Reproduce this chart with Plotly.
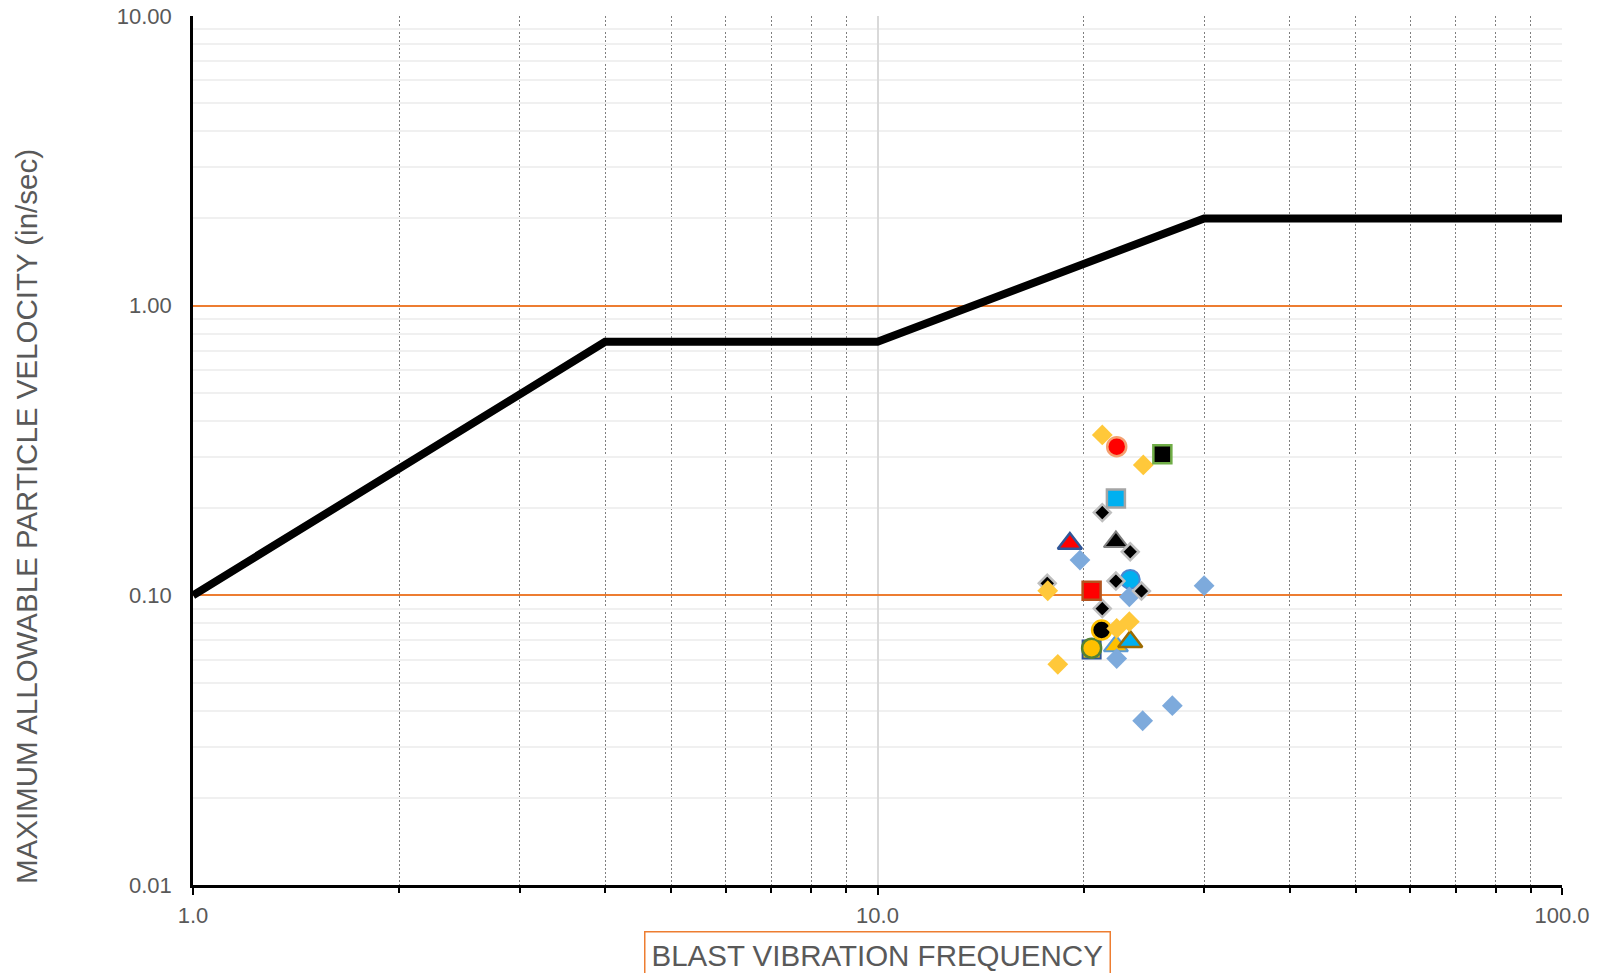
import plotly.graph_objects as go

# ---- data ----
limit_freq = [1, 4, 10, 30, 100]
limit_ppv = [0.1, 0.75, 0.75, 2.0, 2.0]

x_major = [1, 10, 100]
x_major_text = ["1.0", "10.0", "100.0"]
x_minor = [2, 3, 4, 5, 6, 7, 8, 9, 20, 30, 40, 50, 60, 70, 80, 90]
y_major = [0.01, 0.1, 1, 10]
y_major_text = ["0.01", "0.10", "1.00", "10.00"]
y_minor = [0.02, 0.03, 0.04, 0.05, 0.06, 0.07, 0.08, 0.09,
           0.2, 0.3, 0.4, 0.5, 0.6, 0.7, 0.8, 0.9,
           2, 3, 4, 5, 6, 7, 8, 9]

# blast readings (frequency Hz, PPV in/sec), grouped by marker style
sq_hidden_f = [20.55]
sq_hidden_v = [0.065]
circ_yellow_f = [20.55]
circ_yellow_v = [0.0657]
circ_black_f = [21.25]
circ_black_v = [0.0759]
circ_cyan_f = [23.4]
circ_cyan_v = [0.1135]
tri_black_f = [22.3]
tri_black_v = [0.153]
tri_red_f = [19.1]
tri_red_v = [0.151]
tri_yellow_f = [22.3]
tri_yellow_v = [0.0669]
tri_cyan_f = [23.4]
tri_cyan_v = [0.0692]
dia_blue_f = [19.76, 23.33, 30.0, 22.36, 26.96, 24.4]
dia_blue_v = [0.1324, 0.0988, 0.108, 0.0605, 0.0416, 0.0369]
dia_black_f = [21.3, 23.4, 17.7, 22.3, 24.3, 21.3]
dia_black_v = [0.193, 0.1414, 0.110, 0.112, 0.1035, 0.0900]
dia_yellow_f = [21.3, 24.45, 17.73, 22.36, 23.33, 18.34]
dia_yellow_v = [0.358, 0.282, 0.1037, 0.0769, 0.0811, 0.0578]
circ_red_f = [22.36]
circ_red_v = [0.326]
sq_cyan_f = [22.3]
sq_cyan_v = [0.216]
sq_black_f = [26.07]
sq_black_v = [0.307]
sq_red_f = [20.55]
sq_red_v = [0.1037]

fig = go.Figure()

fig.add_trace(go.Scatter(x=limit_freq, y=limit_ppv, mode="lines",
                         line=dict(color="black", width=8), hoverinfo="skip"))


def pts(f, v, symbol, size, fill, border, bw=2):
    fig.add_trace(go.Scatter(
        x=f, y=v, mode="markers",
        marker=dict(symbol=symbol, size=size, color=fill,
                    line=dict(color=border, width=bw))))


pts(sq_hidden_f, sq_hidden_v, "square", 18, "#FFC000", "#2F5597")
pts(circ_yellow_f, circ_yellow_v, "circle", 19, "#FFC000", "#548235", 2.5)
pts(circ_black_f, circ_black_v, "circle", 19, "black", "#FFC000", 2.5)
pts(circ_cyan_f, circ_cyan_v, "circle", 19, "#00B0F0", "#4A86D0", 2)
pts(tri_black_f, tri_black_v, "triangle-up", 21, "black", "#7F7F7F", 2)
pts(tri_red_f, tri_red_v, "triangle-up", 21, "#FF0000", "#2F5597", 2.5)
pts(tri_yellow_f, tri_yellow_v, "triangle-up", 21, "#FFC000", "#5B9BD5", 2)
pts(tri_cyan_f, tri_cyan_v, "triangle-up", 21, "#00B0F0", "#9C6A00", 2.5)
pts(dia_blue_f, dia_blue_v, "diamond", 16, "#7DAADC", "#7DAADC", 0)
pts(dia_black_f, dia_black_v, "diamond", 13, "black", "#BFBFBF", 2.5)
pts(dia_yellow_f, dia_yellow_v, "diamond", 16, "#FFC83A", "#FFC83A", 0)
pts(circ_red_f, circ_red_v, "circle", 19, "#FF0000", "#F4A070", 2.5)
pts(sq_cyan_f, sq_cyan_v, "square", 18, "#00B0F0", "#A5A5A5", 2.5)
pts(sq_black_f, sq_black_v, "square", 18, "black", "#70AD47", 2.5)
pts(sq_red_f, sq_red_v, "square", 18, "#FF0000", "#B4541E", 2.5)

FONT = "Liberation Sans, Arial, sans-serif"
GREY = "#595959"

fig.update_layout(
    width=1599, height=973,
    margin=dict(l=193, r=37, t=16, b=88, autoexpand=False),
    paper_bgcolor="white", plot_bgcolor="white",
    showlegend=False,
    font=dict(family=FONT, color=GREY, size=22),
    xaxis=dict(
        type="log", range=[0, 2],
        tickmode="array", tickvals=x_major, ticktext=x_major_text,
        ticks="outside", ticklen=7, tickwidth=2, tickcolor="black",
        showline=True, linecolor="black", linewidth=2.5,
        showgrid=True, gridcolor="#D9D9D9", gridwidth=1.5,
        tickfont=dict(size=22, color=GREY, family=FONT),
        ticklabelstandoff=2,
        zeroline=False,
        minor=dict(tickmode="array", tickvals=x_minor, ticks="outside",
                   ticklen=5, tickwidth=2, tickcolor="black",
                   showgrid=True, gridcolor="#7F7F7F", gridwidth=1.4,
                   griddash="2px,2px"),
    ),
    yaxis=dict(
        type="log", range=[-2, 1],
        tickmode="array", tickvals=y_major, ticktext=y_major_text,
        ticks="",
        showline=True, linecolor="black", linewidth=2.5,
        showgrid=True, gridcolor="#ED7D31", gridwidth=1.8,
        tickfont=dict(size=22, color=GREY, family=FONT),
        ticklabelstandoff=14,
        zeroline=False,
        minor=dict(tickmode="array", tickvals=y_minor, ticks="",
                   showgrid=True, gridcolor="#F0F0F0", gridwidth=2),
    ),
    annotations=[
        dict(text="BLAST VIBRATION FREQUENCY", xref="paper", yref="paper",
             x=0.5, y=(885 - 955) / 869, xanchor="center", yanchor="middle",
             showarrow=False, font=dict(size=29.5, color=GREY, family=FONT),
             bordercolor="#ED7D31", borderwidth=1.5, borderpad=6),
        dict(text="MAXIMUM ALLOWABLE PARTICLE VELOCITY (in/sec)",
             xref="paper", yref="paper",
             x=(26 - 193) / 1369, y=(885 - 517) / 869,
             xanchor="center", yanchor="middle", textangle=-90,
             showarrow=False, font=dict(size=29.5, color=GREY, family=FONT)),
    ],
)

fig.write_html("out.html")
